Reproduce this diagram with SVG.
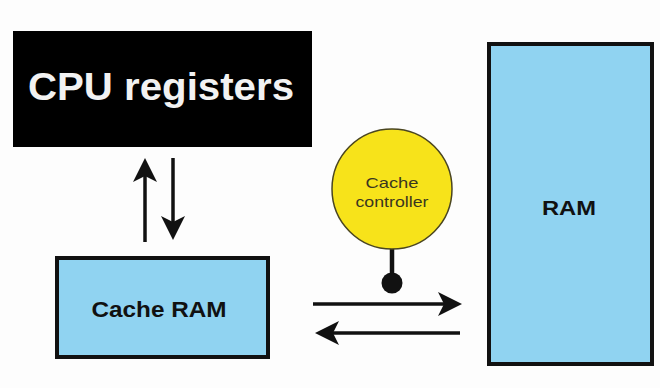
<svg xmlns="http://www.w3.org/2000/svg" width="660" height="388" viewBox="0 0 660 388">
  <style>
    .box { fill: #90d3f1; stroke: #111; stroke-width: 4; }
    .lbl { font-family: "Liberation Sans", Arial, sans-serif; font-weight: bold; text-anchor: middle; }
    .wire { stroke: #111; stroke-width: 3.5; fill: none; marker-end: url(#head); }
  </style>
  <defs>
    <marker id="head" markerUnits="userSpaceOnUse" markerWidth="24" markerHeight="24" viewBox="0 0 24 24" refX="9" refY="12" orient="auto">
      <path d="M24,12 L0,0 L6,12 L0,24 Z" fill="#111"/>
    </marker>
  </defs>
  <rect width="660" height="388" fill="#fdfdfd"/>

  <g id="cpu-registers">
    <rect x="13" y="31" width="299" height="116" fill="#000"/>
    <text class="lbl" x="161" y="100" font-size="39" fill="#f2f2f2" textLength="266" lengthAdjust="spacingAndGlyphs">CPU registers</text>
  </g>

  <g id="cache-ram">
    <rect class="box" x="57" y="258" width="211" height="99"/>
    <text class="lbl" x="159" y="317" font-size="22" fill="#111" textLength="135" lengthAdjust="spacingAndGlyphs">Cache RAM</text>
  </g>

  <g id="ram">
    <rect class="box" x="489" y="44" width="163" height="320"/>
    <text class="lbl" x="569" y="215" font-size="20" fill="#111" textLength="54" lengthAdjust="spacingAndGlyphs">RAM</text>
  </g>

  <g id="cache-controller">
    <line x1="392" y1="236" x2="392" y2="283" stroke="#111" stroke-width="4.5"/>
    <circle cx="392" cy="283" r="10.5" fill="#111"/>
    <circle cx="392" cy="189" r="60" fill="#f7e31a" stroke="#4a4520" stroke-width="1.5"/>
    <text x="392" y="188" font-family="Liberation Sans, Arial, sans-serif" font-size="15" fill="#3a3620" text-anchor="middle" textLength="53" lengthAdjust="spacingAndGlyphs">Cache</text>
    <text x="392" y="207" font-family="Liberation Sans, Arial, sans-serif" font-size="15" fill="#3a3620" text-anchor="middle" textLength="73" lengthAdjust="spacingAndGlyphs">controller</text>
  </g>

  <g id="connectors">
    <line class="wire" x1="145" y1="242" x2="145" y2="173"/>
    <line class="wire" x1="173" y1="158" x2="173" y2="225"/>
    <line class="wire" x1="313" y1="304" x2="447" y2="304"/>
    <line class="wire" x1="460" y1="333" x2="330" y2="333"/>
  </g>
</svg>
